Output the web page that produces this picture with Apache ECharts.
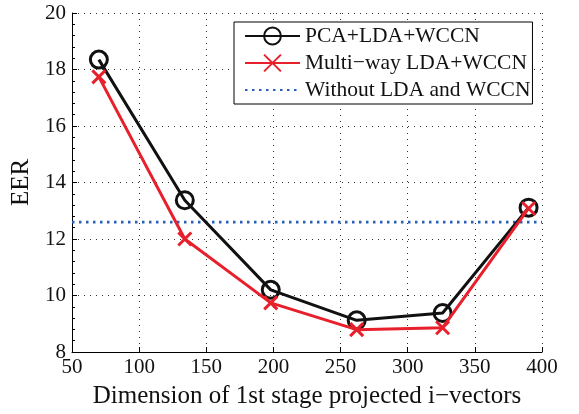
<!DOCTYPE html>
<html><head><meta charset="utf-8">
<script src="https://cdn.jsdelivr.net/npm/echarts@6/dist/echarts.min.js"></script>
<style>html,body{margin:0;padding:0;background:#fff}#c{width:579px;height:414px}</style>
</head><body><div id="c"></div>
<script>
const dims = [70, 134, 198, 262, 326, 390];
const pcaLdaWccn = [18.35, 13.37, 10.2, 9.12, 9.38, 13.11];
const multiwayLdaWccn = [17.74, 12.0, 9.74, 8.79, 8.86, 13.08];
const baselineX = [50, 400];
const baselineEER = 12.6;
const seriesNames = ['PCA+LDA+WCCN', 'Multi\u2212way LDA+WCCN', 'Without LDA and WCCN'];

const font = 'Liberation Serif';
const chart = echarts.init(document.getElementById('c'), null, {renderer: 'canvas'});
const xPath = 'path://M0,0L10,10M10,0L0,10';
chart.setOption({
  animation: false,
  backgroundColor: '#fff',
  grid: {left: 72, right: 37, top: 13, bottom: 58},
  legend: {
    orient: 'vertical', left: 234, top: 22,
    backgroundColor: '#fff', borderColor: '#000', borderWidth: 1,
    padding: [3, 2, 3, 10], itemGap: 5, itemWidth: 55, itemHeight: 21,
    textStyle: {fontFamily: font, fontSize: 21.5, color: '#111'},
    data: seriesNames
  },
  xAxis: {
    type: 'value', min: 50, max: 400, interval: 50,
    name: 'Dimension of 1st stage projected i\u2212vectors', nameLocation: 'middle', nameGap: 32,
    nameTextStyle: {fontFamily: font, fontSize: 25, color: '#111'},
    axisLine: {lineStyle: {color: '#000', width: 1}},
    axisTick: {inside: true, length: 5, lineStyle: {color: '#000'}},
    axisLabel: {fontFamily: font, fontSize: 21, color: '#111', margin: 5},
    splitLine: {show: true, lineStyle: {color: '#333', type: [1, 5], width: 1}}
  },
  yAxis: {
    type: 'value', min: 8, max: 20, interval: 2,
    name: 'EER', nameLocation: 'middle', nameGap: 33,
    nameTextStyle: {fontFamily: font, fontSize: 25, color: '#111'},
    axisLine: {show: true, lineStyle: {color: '#000', width: 1}},
    axisTick: {show: true, inside: true, length: 5, lineStyle: {color: '#000'}},
    minorTick: {show: true, splitNumber: 5, length: 3, lineStyle: {color: '#000'}},
    axisLabel: {fontFamily: font, fontSize: 21, color: '#111', margin: 6},
    splitLine: {show: true, lineStyle: {color: '#333', type: [1, 5], width: 1}}
  },
  series: [
    {
      name: seriesNames[2], type: 'line', symbol: 'circle', showSymbol: false, z: 1,
      data: baselineX.map(x => [x, baselineEER]),
      lineStyle: {color: '#2a5fb5', width: 2.8, type: [2.5, 4.5]},
      itemStyle: {color: 'rgba(0,0,0,0)', borderWidth: 0}
    },
    {
      name: seriesNames[0], type: 'line', symbol: 'circle', symbolSize: 17, z: 3,
      data: dims.map((d, i) => [d, pcaLdaWccn[i]]),
      lineStyle: {color: '#111', width: 3},
      itemStyle: {color: 'rgba(0,0,0,0)', borderColor: '#111', borderWidth: 3}
    },
    {
      name: seriesNames[1], type: 'line', symbol: xPath, symbolSize: 13, z: 4,
      data: dims.map((d, i) => [d, multiwayLdaWccn[i]]),
      lineStyle: {color: '#e8202c', width: 3},
      itemStyle: {color: 'rgba(0,0,0,0)', borderColor: '#e8202c', borderWidth: 3}
    }
  ]
});
</script></body></html>
